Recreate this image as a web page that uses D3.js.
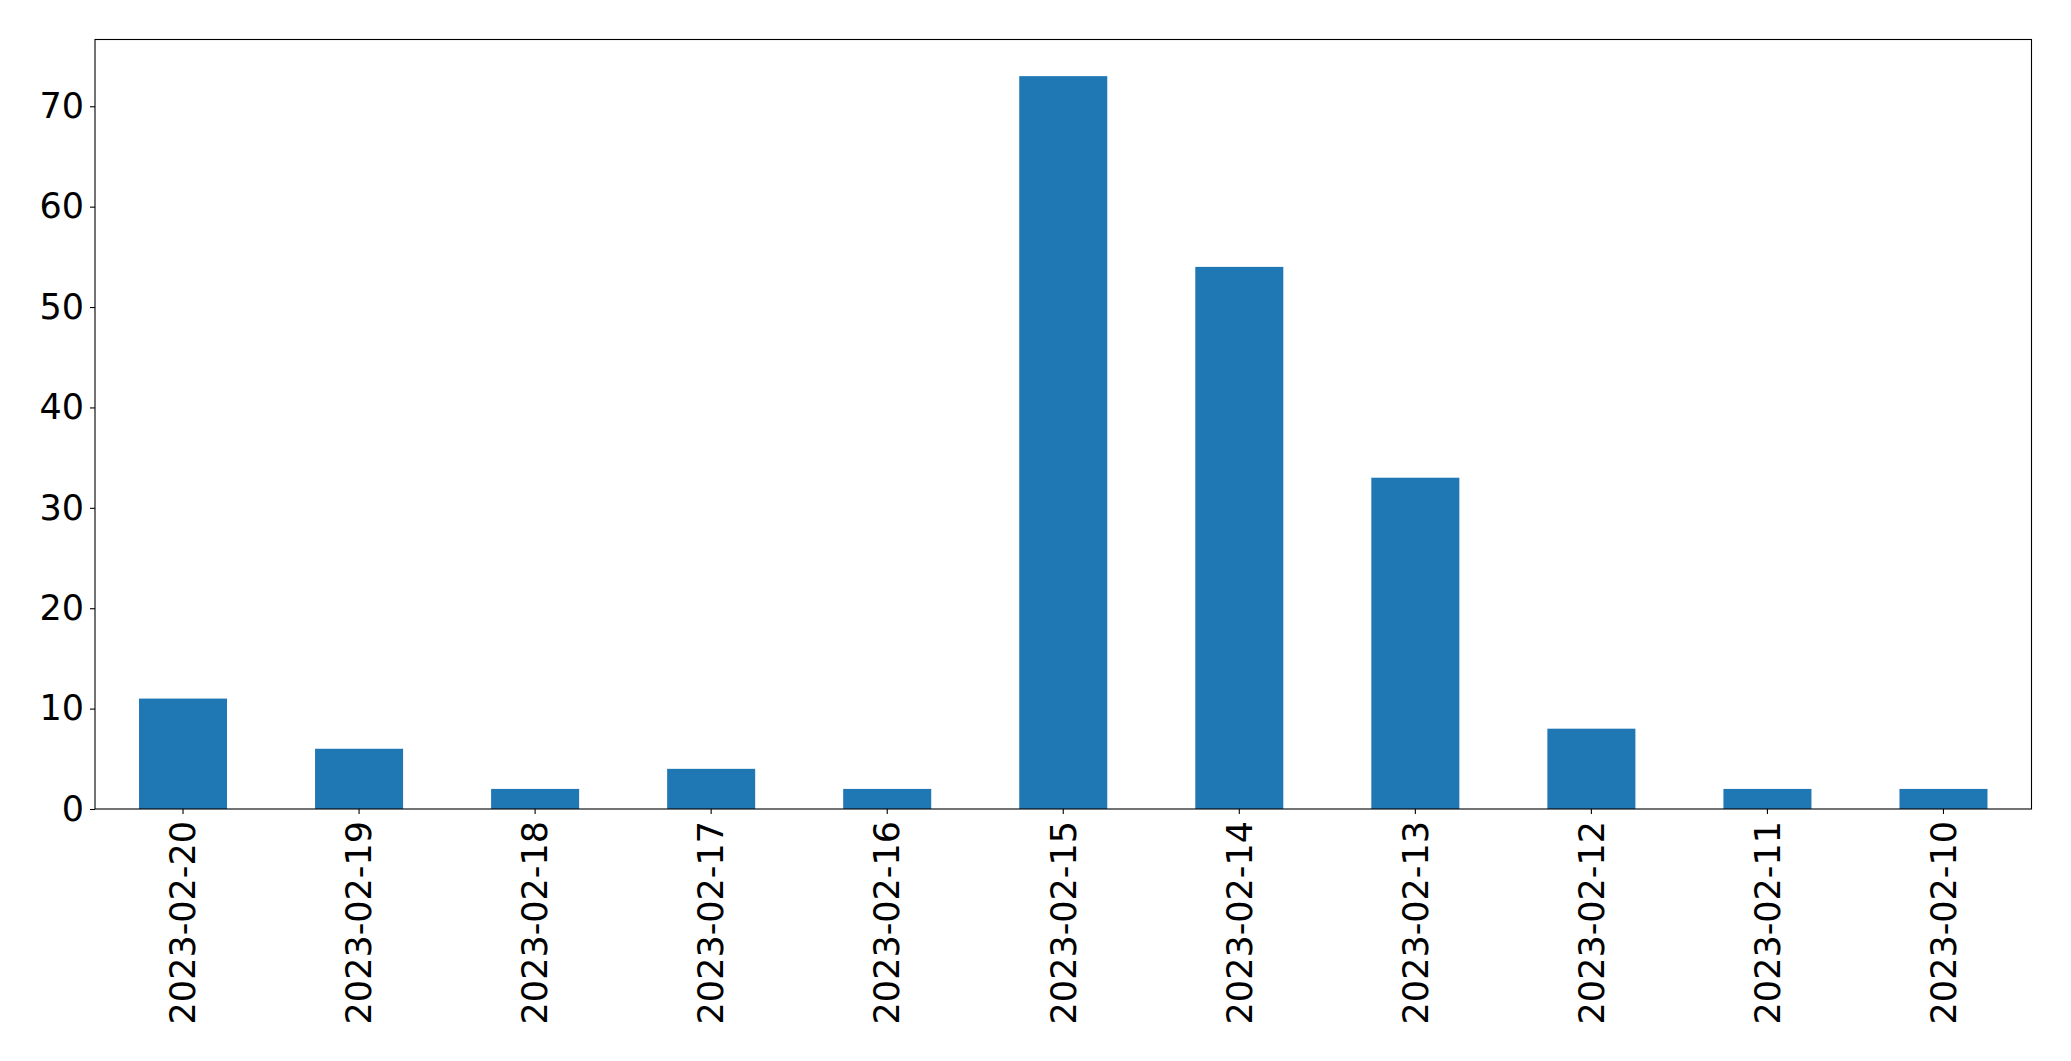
<!DOCTYPE html>
<html><head><meta charset="utf-8">
<script src="https://cdn.jsdelivr.net/npm/d3@7"></script>
<style>body{margin:0;background:#fff;} text{font-family:"DejaVu Sans",sans-serif;}</style>
</head><body>
<svg id="c" width="2071" height="1061"></svg>
<script>
const categories = ["2023-02-20","2023-02-19","2023-02-18","2023-02-17","2023-02-16","2023-02-15","2023-02-14","2023-02-13","2023-02-12","2023-02-11","2023-02-10"];
const values = [11, 6, 2, 4, 2, 73, 54, 33, 8, 2, 2];
const yTicks = [0, 10, 20, 30, 40, 50, 60, 70];

const svg = d3.select("#c");
const m = {left: 95, top: 39.5, right: 2031.5, bottom: 809};
const x = d3.scaleBand().domain(categories).range([m.left, m.right]).paddingInner(0.5).paddingOuter(0.25);
const y = d3.scaleLinear().domain([0, d3.max(values) * 1.05]).range([m.bottom, m.top]);

svg.append("g").selectAll("rect").data(values).join("rect")
  .attr("x", (d, i) => x(categories[i]))
  .attr("width", x.bandwidth())
  .attr("y", d => y(d))
  .attr("height", d => y(0) - y(d))
  .attr("fill", "#1f77b4");

const fs = 35;
const yAxis = svg.append("g").attr("transform", `translate(${m.left},0)`)
  .call(d3.axisLeft(y).tickValues(yTicks).tickSize(5).tickPadding(6).tickFormat(d3.format("d")));
yAxis.select(".domain").remove();
yAxis.selectAll("line").attr("stroke", "#000").attr("stroke-width", 1.1);
yAxis.selectAll("text").attr("font-size", fs).attr("fill", "#000").attr("font-family", "DejaVu Sans");

const xAxis = svg.append("g").attr("transform", `translate(0,${m.bottom})`)
  .call(d3.axisBottom(x).tickSize(5).tickPadding(6));
xAxis.select(".domain").remove();
xAxis.selectAll("line").attr("stroke", "#000").attr("stroke-width", 1.1);
xAxis.selectAll("text")
  .attr("font-size", fs).attr("fill", "#000").attr("font-family", "DejaVu Sans")
  .attr("transform", "rotate(-90)")
  .attr("text-anchor", "end")
  .attr("dy", "0.35em")
  .attr("x", -12).attr("y", 0);

svg.append("rect").attr("x", m.left).attr("y", m.top)
  .attr("width", m.right - m.left).attr("height", m.bottom - m.top)
  .attr("fill", "none").attr("stroke", "#000").attr("stroke-width", 1.1);
</script>
</body></html>
